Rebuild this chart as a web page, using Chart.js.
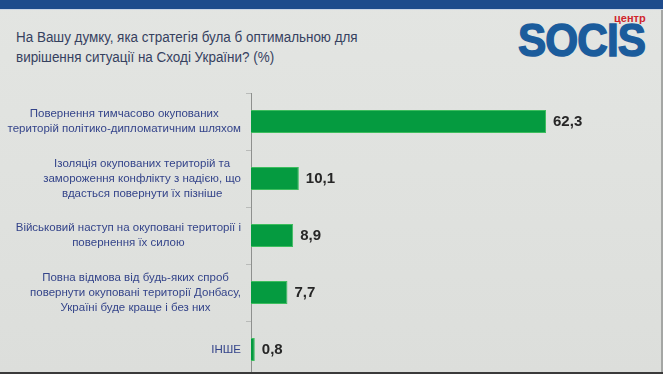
<!DOCTYPE html>
<html lang="uk">
<head>
<meta charset="utf-8">
<script src="https://cdn.jsdelivr.net/npm/chart.js@4/dist/chart.umd.min.js"></script>
<style>
  html, body { margin: 0; padding: 0; }
  body {
    width: 663px; height: 374px; overflow: hidden; position: relative;
    background: linear-gradient(180deg, #e3e5e2 0%, #dfe1de 60%, #dcdedb 100%);
    font-family: "Liberation Sans", Arial, sans-serif;
  }
  #topband { position: absolute; left: 0; top: 0; width: 663px; height: 9px; background: #1d4b8c; border-bottom: 1px solid #c9d4e4; }
  #title { position: absolute; left: 16px; top: 27px; font-size: 14px; line-height: 20px; color: #36415f; transform: scaleX(0.96); transform-origin: left top; }
  #logo { position: absolute; left: 518px; top: 14px; width: 140px; height: 50px; }
  #logo .word { position: absolute; left: 0; top: 2px; font-size: 46px; font-weight: bold; color: #1b5c9c; -webkit-text-stroke: 1.5px #1b5c9c; letter-spacing: -1px; transform: scaleX(0.92); transform-origin: left top; line-height: 48px; }
  #logo .small { position: absolute; left: 96px; top: -2px; font-size: 11px; font-weight: bold; color: #d0262c; }
  #wrap { position: absolute; left: 0; top: 93px; width: 663px; height: 285px; }
  #rightedge { position: absolute; right: 0; top: 10px; width: 2px; height: 364px; background: #a4a6a4; }
  #bottomedge { position: absolute; left: 0; bottom: 0; width: 663px; height: 2px; background: #3a3a3a; }
</style>
</head>
<body>
<div id="topband"></div>
<div id="title">На Вашу думку, яка стратегія була б оптимальною для<br>вирішення ситуації на Сході України? (%)</div>
<div id="logo"><span class="small">центр</span><span class="word">SOCIS</span></div>
<div id="wrap"><canvas id="chart" width="663" height="285"></canvas></div>
<div id="rightedge"></div>
<div id="bottomedge"></div>
<script>
const categories = [
  ["Повернення тимчасово окупованих", "територій політико-дипломатичним шляхом"],
  ["Ізоляція окупованих територій та", "замороження конфлікту з надією, що", "вдасться повернути їх пізніше"],
  ["Військовий наступ на окуповані території і", "повернення їх силою"],
  ["Повна відмова від будь-яких спроб", "повернути окуповані території Донбасу,", "Україні буде краще і без них"],
  ["ІНШЕ"]
];
const values = [62.3, 10.1, 8.9, 7.7, 0.8];
const xMax = 87;

// category labels: each block centred on itself, block right-aligned to the axis
const sideLabels = {
  id: 'sideLabels',
  afterDraw(chart) {
    const ctx = chart.ctx;
    const y = chart.scales.y;
    ctx.save();
    ctx.font = '11.5px "Liberation Sans", Arial, sans-serif';
    ctx.fillStyle = '#34448a';
    ctx.textAlign = 'center';
    ctx.textBaseline = 'middle';
    categories.forEach((lines, i) => {
      const w = Math.max(...lines.map(l => ctx.measureText(l).width));
      const cx = chart.chartArea.left - 10 - w / 2;
      const cy = y.getPixelForValue(i);
      lines.forEach((l, j) => ctx.fillText(l, cx, cy + (j - (lines.length - 1) / 2) * 15));
    });
    ctx.restore();
  }
};

const valueLabels = {
  id: 'valueLabels',
  afterDatasetsDraw(chart) {
    const ctx = chart.ctx;
    const meta = chart.getDatasetMeta(0);
    ctx.save();
    ctx.font = 'bold 15px "Liberation Sans", Arial, sans-serif';
    ctx.fillStyle = '#262626';
    ctx.textAlign = 'left';
    ctx.textBaseline = 'middle';
    meta.data.forEach((bar, i) => {
      ctx.fillText(values[i].toFixed(1).replace('.', ','), bar.x + 7, bar.y);
    });
    ctx.restore();
  }
};

new Chart(document.getElementById('chart'), {
  type: 'bar',
  data: {
    labels: categories.map(c => c.join(' ')),
    datasets: [{
      data: values,
      backgroundColor: '#059b40',
      borderColor: '#3dbd5e',
      borderWidth: 1,
      barPercentage: 0.4,
      categoryPercentage: 1
    }]
  },
  options: {
    indexAxis: 'y',
    responsive: false,
    animation: false,
    devicePixelRatio: 1,
    layout: { padding: 0 },
    plugins: { legend: { display: false }, tooltip: { enabled: false } },
    scales: {
      x: { display: false, min: 0, max: xMax },
      y: {
        grid: { drawOnChartArea: false, drawTicks: true, tickLength: 5, color: '#b9bbb9', offset: true },
        border: { color: '#8e908e', width: 1 },
        ticks: { display: false },
        afterFit: s => { s.width = 251; }
      }
    }
  },
  plugins: [sideLabels, valueLabels]
});
</script>
</body>
</html>
